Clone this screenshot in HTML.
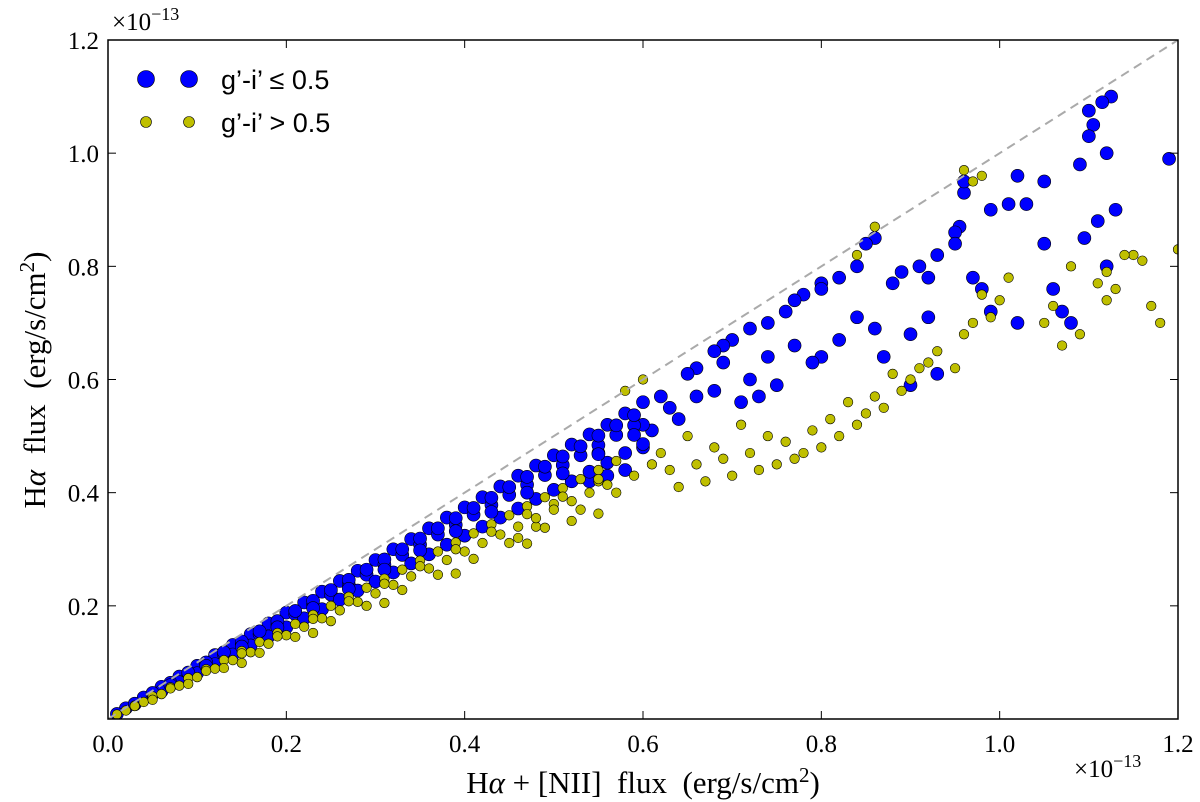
<!DOCTYPE html>
<html><head><meta charset="utf-8"><style>
body{margin:0;background:#fff;}
.serif{font-family:"Liberation Serif",serif;}
.sans{font-family:"Liberation Sans",sans-serif;}
</style></head><body>
<svg id="chart" width="1200" height="802" viewBox="0 0 1200 802" xmlns="http://www.w3.org/2000/svg" style="position:absolute;left:0;top:0">
<rect width="1200" height="802" fill="#fff"/>
<g id="marks"></g>
<g id="axes"></g>
</svg>
<script>
const xTicks=[0.0,0.2,0.4,0.6,0.8,1.0,1.2];
const xTickLabels=["0.0","0.2","0.4","0.6","0.8","1.0","1.2"];
const yTicks=[0.2,0.4,0.6,0.8,1.0,1.2];
const yTickLabels=["0.2","0.4","0.6","0.8","1.0","1.2"];
// blue series (g'-i' <= 0.5), units of 1e-13
const blueX=[
1.125,1.115,1.10,1.105,1.10,1.12,1.19,1.09,1.13,1.11,
1.095,1.02,1.05,1.01,1.03,0.99,0.96,0.96,0.955,0.95,
0.95,0.93,0.92,0.91,0.89,0.88,0.86,0.85,0.84,0.82,
0.80,0.80,0.78,0.77,0.76,0.74,0.72,0.70,0.69,0.68,
0.66,0.65,0.97,0.98,0.99,1.02,1.05,1.06,1.07,1.08,
1.12,0.92,0.90,0.90,0.93,0.87,0.86,0.84,0.82,0.80,
0.79,0.77,0.75,0.73,0.71,0.72,0.74,0.69,0.68,0.66,
0.64,0.63,0.62,0.61,0.60,0.58,0.56,0.54,0.60,0.55,
0.02,0.04,0.06,0.08,0.10,0.12,0.14,0.16,0.18,0.20,0.22,0.24,0.26,0.28,0.30,0.32,0.34,0.36,0.38,0.40,0.42,0.44,0.46,0.48,0.50,0.52,0.54,0.56,0.58,0.60,
0.03,0.05,0.07,0.09,0.11,0.13,0.15,0.17,0.19,0.21,0.23,0.25,0.27,0.29,0.31,0.33,0.35,0.37,0.39,0.41,0.43,0.45,0.47,0.49,0.51,0.53,0.55,0.57,0.59,
0.06,0.08,0.10,0.12,0.14,0.16,0.18,0.20,0.22,0.24,0.26,0.28,0.30,0.32,0.34,0.36,0.38,0.40,0.42,0.44,0.46,0.48,0.50,0.52,0.54,0.56,0.58,0.60,
0.01,0.03,0.05,0.07,0.09,0.11,0.13,0.15,0.17,0.19,0.21,0.23,0.25,0.27,0.29,0.31,0.33,0.35,0.37,0.39,0.41,0.43,0.45,0.47,0.49,0.51,0.53,0.55,0.57,0.59,
0.07,0.11,0.15,0.19,0.23,0.27,0.31,0.35,0.39,0.43,0.47,0.51,0.55,0.59];
const blueY=[
1.10,1.09,1.075,1.05,1.03,1.00,0.99,0.98,0.90,0.88,
0.85,0.96,0.95,0.91,0.91,0.90,0.93,0.95,0.87,0.86,
0.84,0.82,0.78,0.80,0.79,0.77,0.85,0.84,0.80,0.78,
0.77,0.76,0.75,0.74,0.72,0.70,0.69,0.67,0.66,0.65,
0.62,0.61,0.78,0.76,0.72,0.70,0.84,0.76,0.72,0.70,
0.80,0.71,0.68,0.59,0.61,0.64,0.69,0.71,0.67,0.64,
0.63,0.66,0.59,0.57,0.56,0.60,0.64,0.63,0.58,0.57,
0.53,0.55,0.57,0.51,0.52,0.44,0.43,0.42,0.48,0.47,
0.019,0.038,0.057,0.075,0.094,0.113,0.131,0.150,0.169,0.188,0.206,0.225,0.244,0.262,0.281,0.300,0.318,0.337,0.356,0.374,0.392,0.411,0.430,0.448,0.466,0.485,0.503,0.520,0.540,0.560,
0.026,0.044,0.062,0.079,0.097,0.114,0.132,0.150,0.167,0.185,0.202,0.220,0.238,0.255,0.273,0.290,0.308,0.326,0.343,0.361,0.378,0.396,0.414,0.431,0.449,0.466,0.484,0.502,0.519,
0.049,0.065,0.081,0.097,0.114,0.130,0.146,0.162,0.178,0.194,0.211,0.227,0.243,0.259,0.275,0.291,0.308,0.324,0.340,0.356,0.372,0.389,0.405,0.420,0.437,0.453,0.470,0.486,
0.009,0.027,0.046,0.064,0.082,0.100,0.118,0.137,0.155,0.173,0.191,0.209,0.228,0.246,0.264,0.282,0.300,0.319,0.337,0.355,0.373,0.391,0.410,0.428,0.446,0.464,0.482,0.501,0.519,0.537,
0.060,0.094,0.128,0.162,0.196,0.230,0.264,0.298,0.332,0.366,0.400,0.434,0.468,0.502];
// yellow series (g'-i' > 0.5)
const yelX=[
1.20,1.16,1.15,1.14,1.12,1.11,1.12,1.13,1.17,1.18,
1.06,1.08,1.05,1.07,1.09,1.01,1.00,0.99,0.98,0.97,
0.96,0.95,0.93,0.92,0.91,0.90,0.89,0.88,0.87,0.86,
0.85,0.84,0.83,0.82,0.81,0.80,0.79,0.78,0.77,0.76,
0.75,0.74,0.73,0.72,0.71,0.70,0.69,0.68,0.67,0.66,
0.65,0.64,0.63,0.62,0.96,0.97,0.98,0.86,0.84,0.60,
0.58,0.61,0.59,0.57,0.55,0.53,0.52,0.50,0.48,0.46,
0.01,0.03,0.05,0.07,0.09,0.11,0.13,0.15,0.17,0.19,0.21,0.23,0.25,0.27,0.29,0.31,0.33,0.35,0.37,0.39,0.41,0.43,0.45,0.47,0.49,0.51,0.53,0.55,0.57,
0.02,0.04,0.06,0.08,0.10,0.12,0.14,0.16,0.18,0.20,0.22,0.24,0.26,0.28,0.30,0.32,0.34,0.36,0.38,0.40,0.42,0.44,0.46,0.48,0.50,0.52,0.54,0.56,
0.05,0.09,0.13,0.17,0.21,0.25,0.29,0.33,0.37,0.41,0.45,0.49,
0.03,0.07,0.11,0.15,0.19,0.23,0.27,0.31,0.35,0.39,0.43,0.47,0.51,0.55,
0.15,0.23,0.31,0.39,0.47,0.55];
const yelY=[
0.83,0.81,0.82,0.82,0.79,0.77,0.74,0.76,0.73,0.70,
0.73,0.80,0.70,0.66,0.68,0.78,0.74,0.71,0.75,0.70,
0.68,0.62,0.65,0.63,0.62,0.60,0.58,0.61,0.55,0.57,
0.54,0.52,0.56,0.50,0.53,0.48,0.51,0.47,0.46,0.49,
0.45,0.50,0.44,0.47,0.52,0.43,0.46,0.48,0.42,0.45,
0.50,0.41,0.44,0.47,0.97,0.95,0.96,0.87,0.82,0.60,
0.58,0.45,0.43,0.40,0.42,0.37,0.35,0.38,0.34,0.32,
0.008,0.024,0.040,0.056,0.072,0.088,0.104,0.120,0.136,0.152,0.168,0.184,0.200,0.216,0.232,0.248,0.264,0.280,0.296,0.312,0.328,0.344,0.360,0.376,0.392,0.408,0.424,0.440,0.456,
0.015,0.030,0.044,0.059,0.074,0.089,0.104,0.118,0.133,0.148,0.163,0.178,0.192,0.207,0.222,0.237,0.252,0.266,0.281,0.296,0.311,0.326,0.340,0.355,0.370,0.385,0.400,0.414,
0.034,0.062,0.090,0.117,0.145,0.173,0.200,0.228,0.255,0.283,0.311,0.338,
0.023,0.054,0.085,0.116,0.146,0.177,0.208,0.239,0.270,0.300,0.331,0.362,0.393,0.424,
0.099,0.152,0.205,0.257,0.310,0.363];

const X0=108,X1=1178,Y0=719,Y1=40;
const px=v=>X0+v/1.2*(X1-X0);
const py=v=>Y0-v/1.2*(Y0-Y1);
const NS="http://www.w3.org/2000/svg";
const marks=document.getElementById('marks');
const axes=document.getElementById('axes');
function mk(tag,attrs,parent){const e=document.createElementNS(NS,tag);for(const k in attrs)e.setAttribute(k,attrs[k]);parent.appendChild(e);return e;}

const clip=mk('clipPath',{id:'pc'},marks);
mk('rect',{x:X0,y:Y1,width:X1-X0,height:Y0-Y1},clip);
const g=mk('g',{'clip-path':'url(#pc)'},marks);


const nB=Math.min(blueX.length,blueY.length);
for(let i=0;i<nB;i++){
  const c=mk('circle',{cx:px(blueX[i]),cy:py(blueY[i]),r:6.5,fill:'#0000ff',stroke:'#000','stroke-width':0.6},g);
  
  
}
const nY=Math.min(yelX.length,yelY.length);
for(let i=0;i<nY;i++){
  const c=mk('circle',{cx:px(yelX[i]),cy:py(yelY[i]),r:4.8,fill:'#bfbf00',stroke:'#000','stroke-width':0.6},g);
  
  
}
const dl=mk('line',{x1:px(0),y1:py(0),x2:px(1.2),y2:py(1.2),stroke:'#aaa','stroke-width':2,'stroke-dasharray':'9,6'},g);



const fr=mk('rect',{x:X0,y:Y1,width:X1-X0,height:Y0-Y1,fill:'none',stroke:'#000','stroke-width':1.5},axes);


xTicks.forEach((v,i)=>{
  mk('line',{x1:px(v),x2:px(v),y1:Y0,y2:Y0-8,stroke:'#000'},axes);
  mk('line',{x1:px(v),x2:px(v),y1:Y1,y2:Y1+8,stroke:'#000'},axes);
  const t=mk('text',{x:px(v),y:Y0+33,'font-size':25,'text-anchor':'middle','class':'serif'},axes);
  t.textContent=xTickLabels[i];
  
  
});
yTicks.forEach((v,i)=>{
  mk('line',{x1:X0,x2:X0+8,y1:py(v),y2:py(v),stroke:'#000'},axes);
  mk('line',{x1:X1,x2:X1-8,y1:py(v),y2:py(v),stroke:'#000'},axes);
  const t=mk('text',{x:X0-9,y:py(v)+9,'font-size':25,'text-anchor':'end','class':'serif'},axes);
  t.textContent=yTickLabels[i];
  
  
});
</script>
<svg style="position:absolute;left:0;top:0" width="1200" height="802" xmlns="http://www.w3.org/2000/svg">
<text class="serif" x="112" y="30" font-size="25">×10<tspan dy="-10" font-size="18">−13</tspan></text>
<text class="serif" x="1074" y="777" font-size="25">×10<tspan dy="-10" font-size="18">−13</tspan></text>
<text class="serif" x="643" y="793" font-size="31" text-anchor="middle" xml:space="preserve">H<tspan font-style="italic">α</tspan> + [NII]  flux  (erg/s/cm<tspan dy="-11" font-size="21">2</tspan><tspan dy="11">)</tspan></text>
<text class="serif" transform="translate(45,380) rotate(-90)" font-size="31" text-anchor="middle" xml:space="preserve">H<tspan font-style="italic">α</tspan>  flux  (erg/s/cm<tspan dy="-11" font-size="21">2</tspan><tspan dy="11">)</tspan></text>
<g>
<circle cx="146" cy="79" r="8.5" fill="#0000ff" stroke="#000" stroke-width="0.6"/>
<circle cx="189" cy="79" r="8.5" fill="#0000ff" stroke="#000" stroke-width="0.6"/>
<text class="sans" x="221" y="89" font-size="27">g’-i’ ≤ 0.5</text>
<circle cx="146" cy="122" r="5.5" fill="#bfbf00" stroke="#000" stroke-width="0.6"/>
<circle cx="189" cy="122" r="5.5" fill="#bfbf00" stroke="#000" stroke-width="0.6"/>
<text class="sans" x="221" y="132" font-size="27">g’-i’ &gt; 0.5</text>
</g>
</svg>
</body></html>
